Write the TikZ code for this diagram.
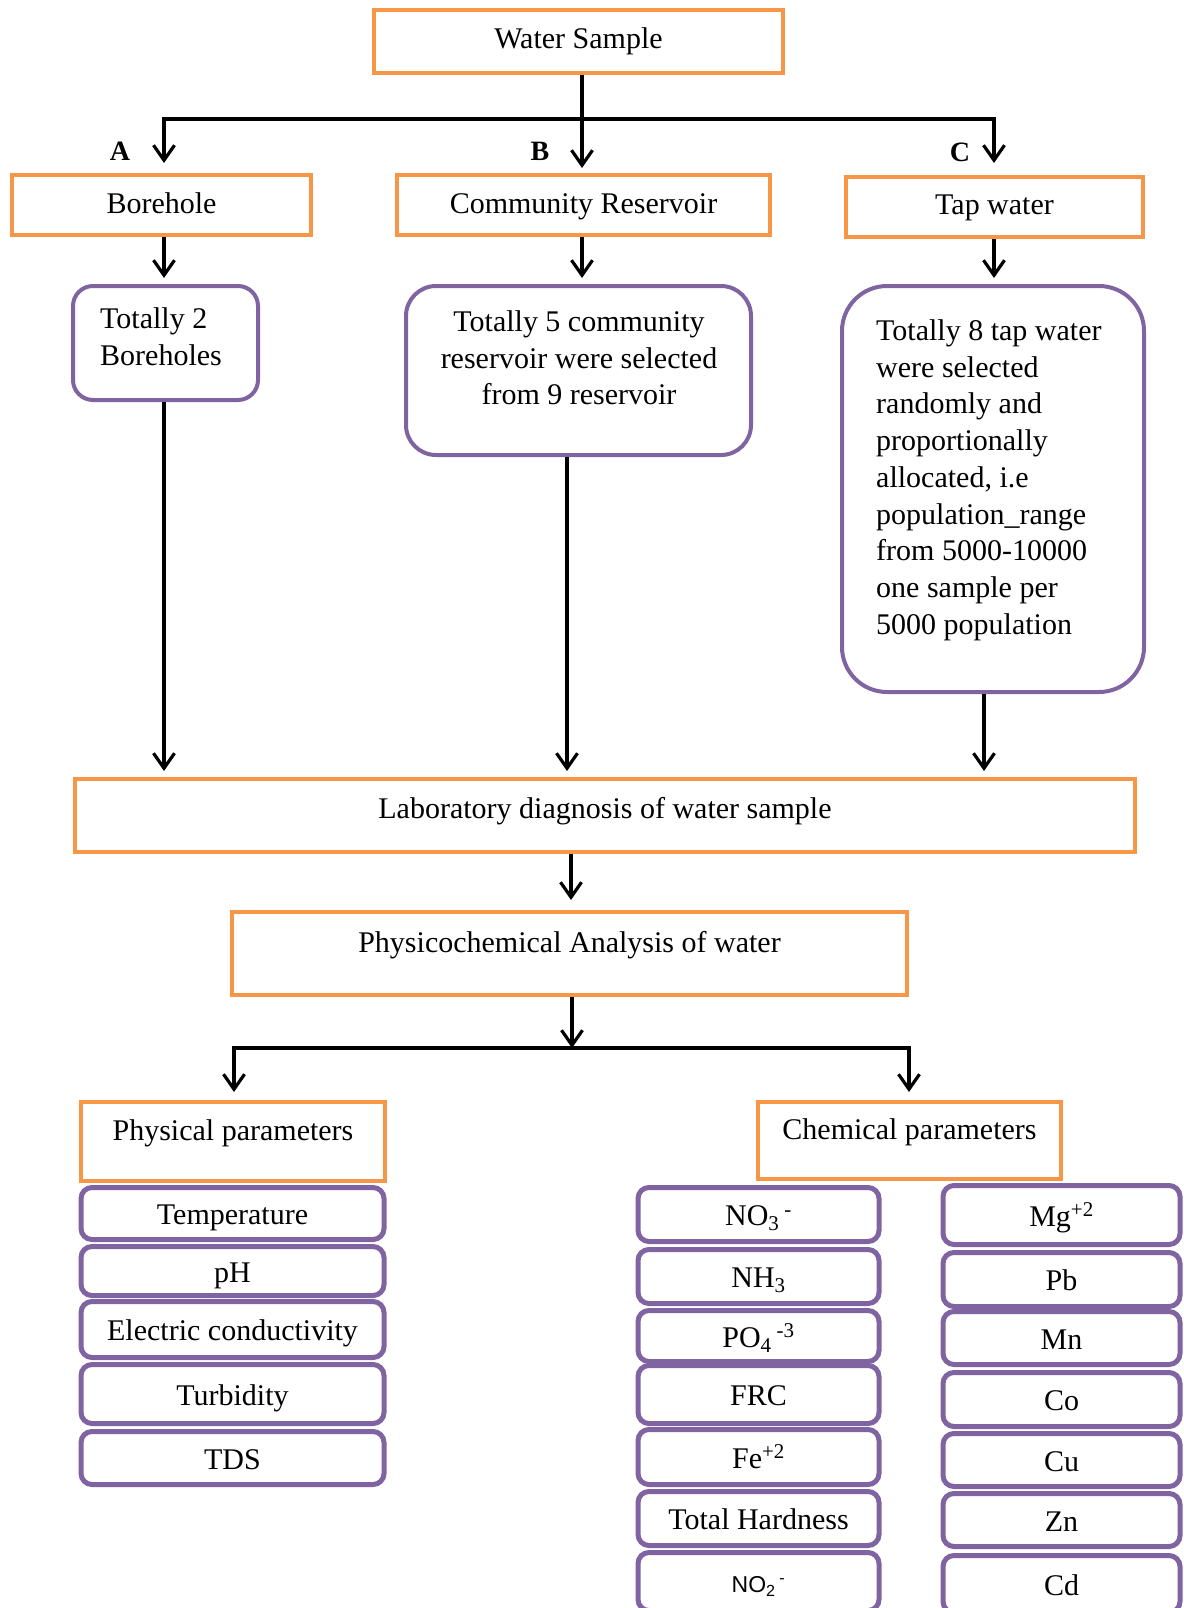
\documentclass[tikz,border=0pt]{standalone}
\usepackage{fontspec}
\setmainfont{Liberation Serif}
\newfontfamily\sansfnt{Liberation Sans}
\usetikzlibrary{arrows.meta}
\definecolor{orng}{HTML}{F79646}
\definecolor{purp}{HTML}{8064A2}
\tikzset{
  obox/.style={draw=orng, line width=4pt, inner sep=0pt, text height=29pt, text depth=7pt},
  pitem/.style={draw=purp, line width=5pt, rounded corners=11pt, inner sep=0pt, text height=29pt, text depth=7pt},
  pbig/.style={draw=purp, line width=4pt, inner sep=0pt},
  conn/.style={line width=3.2pt, black},
  arr/.style={conn, -{Straight Barb[length=15pt,width=21pt]}},
  arrtwo/.style={conn, {Straight Barb[length=15pt,width=21pt]}-{Straight Barb[length=15pt,width=21pt]}},
  body/.style={inner sep=0pt, anchor=north west, align=left},
  letter/.style={font=\fontsize{28}{30}\selectfont\bfseries, inner sep=0pt},
}
\begin{document}
\begin{tikzpicture}[x=1pt,y=-1pt,font=\fontsize{30}{36.7}\selectfont]
\clip (0,0) rectangle (1183,1608);
\fill[white] (0,0) rectangle (1183,1608);

% top level
\node[obox, minimum width=409pt, minimum height=63pt, text depth=14.6pt] (ws) at (578.5,41.5) {Water Sample};
\node[obox, minimum width=299pt, minimum height=60pt, text depth=11.6pt] (bore) at (161.5,205) {Borehole};
\node[obox, minimum width=373pt, minimum height=60pt, text depth=11.6pt] (crs) at (583.5,205) {Community Reservoir};
\node[obox, minimum width=297pt, minimum height=60pt, text depth=13.5pt] (tap) at (994.5,207) {Tap water};

\node[letter] (la) at (120,151) {A};
\node[letter] (lb) at (540,151) {B};
\node[letter] (lc) at (960,152) {C};

% description boxes
\node[pbig, rounded corners=20pt, minimum width=185pt, minimum height=114pt] (tot2) at (165.5,343) {};
\node[body] (tot2t) at (100,307.5) {Totally 2\\Boreholes};
\node[pbig, rounded corners=30pt, minimum width=345pt, minimum height=169pt] (tot5) at (578.5,370.5) {};
\node[body, anchor=north, align=center] (tot5t) at (579,310.5) {Totally 5 community\\reservoir were selected\\from 9 reservoir};
\node[pbig, rounded corners=45pt, minimum width=302pt, minimum height=406pt] (tot8) at (993,489) {};
\node[body] (tot8t) at (876,319.5) {Totally 8 tap water\\were selected\\randomly and\\proportionally\\allocated, i.e\\population\_range\\from 5000-10000\\one sample per\\5000 population};

% laboratory
\node[obox, minimum width=1060pt, minimum height=73pt, text depth=23pt] (lab) at (605,815.5) {Laboratory diagnosis of water sample};
\node[obox, minimum width=675pt, minimum height=83pt, text depth=30.4pt] (pca) at (569.5,953.5) {Physicochemical Analysis of water};
\node[obox, minimum width=304pt, minimum height=79pt, text depth=31.2pt] (php) at (233,1141.5) {Physical parameters};
\node[obox, minimum width=303pt, minimum height=77pt, text depth=31.2pt] (chp) at (909.5,1140.5) {Chemical parameters};

% physical items
\node[pitem, minimum width=303pt, minimum height=52pt] (p1) at (232.5,1213.5) {Temperature};
\node[pitem, minimum width=303pt, minimum height=49pt] (p2) at (232.5,1271) {pH};
\node[pitem, minimum width=303pt, minimum height=56pt] (p3) at (232.5,1329.5) {Electric conductivity};
\node[pitem, minimum width=303pt, minimum height=59pt] (p4) at (232.5,1394) {Turbidity};
\node[pitem, minimum width=303pt, minimum height=53pt] (p5) at (232.5,1458) {TDS};

% chemical items, left column
\node[pitem, minimum width=241pt, minimum height=54pt] (c1) at (758.5,1214.5) {NO\textsubscript{3}\,\textsuperscript{-}};
\node[pitem, minimum width=241pt, minimum height=54pt] (c2) at (758.5,1276.5) {NH\textsubscript{3}};
\node[pitem, minimum width=241pt, minimum height=51pt] (c3) at (758.5,1336) {PO\textsubscript{4}\,\textsuperscript{-3}};
\node[pitem, minimum width=241pt, minimum height=58pt] (c4) at (758.5,1394.5) {FRC};
\node[pitem, minimum width=241pt, minimum height=55pt] (c5) at (758.5,1457) {Fe\textsuperscript{+2}};
\node[pitem, minimum width=241pt, minimum height=54pt] (c6) at (758.5,1518.5) {Total Hardness};
\node[pitem, minimum width=241pt, minimum height=58pt] (c7) at (758.5,1581.5) {{\sansfnt\fontsize{23}{25}\selectfont NO\textsubscript{2}\,\textsuperscript{-}}};

% chemical items, right column
\node[pitem, minimum width=237pt, minimum height=59pt] (r1) at (1061.5,1215) {Mg\textsuperscript{+2}};
\node[pitem, minimum width=237pt, minimum height=54pt] (r2) at (1061.5,1279.5) {Pb};
\node[pitem, minimum width=237pt, minimum height=53pt] (r3) at (1061.5,1338) {Mn};
\node[pitem, minimum width=237pt, minimum height=54pt] (r4) at (1061.5,1399.5) {Co};
\node[pitem, minimum width=237pt, minimum height=53pt] (r5) at (1061.5,1460) {Cu};
\node[pitem, minimum width=237pt, minimum height=53pt] (r6) at (1061.5,1520) {Zn};
\node[pitem, minimum width=237pt, minimum height=57pt] (r7) at (1061.5,1584) {Cd};

% connectors, top
\coordinate (jB) at (582,119);
\coordinate (tA) at (164,163);
\coordinate (tB) at (582,168);
\coordinate (tC) at (994,163);
\draw[arrtwo] (tA) |- (jB) -| (tC);
\draw[arr] (ws.south -| tB) -- (tB);
\draw[arr, shorten >=6pt] (bore.south -| tA) -- (tot2.north -| tA);
\draw[arr, shorten >=6pt] (crs.south -| tB) -- (tot5.north -| tB);
\draw[arr, shorten >=6pt] (tap.south -| tC) -- (tot8.north -| tC);

% connectors to laboratory
\coordinate (dA) at (164,771);
\coordinate (dB) at (567,771);
\coordinate (dC) at (984,771);
\draw[arr] (tot2.south -| dA) -- (dA);
\draw[arr] (tot5.south -| dB) -- (dB);
\draw[arr] (tot8.south -| dC) -- (dC);

% lower connectors
\coordinate (dL) at (571,900);
\draw[arr] (lab.south -| dL) -- (dL);
\coordinate (jP) at (572,1048);
\draw[arr] (pca.south -| jP) -- (jP);
\coordinate (tPh) at (234,1092);
\coordinate (tCh) at (909,1092);
\draw[arrtwo] (tPh) |- (jP) -| (tCh);
\end{tikzpicture}
\end{document}
